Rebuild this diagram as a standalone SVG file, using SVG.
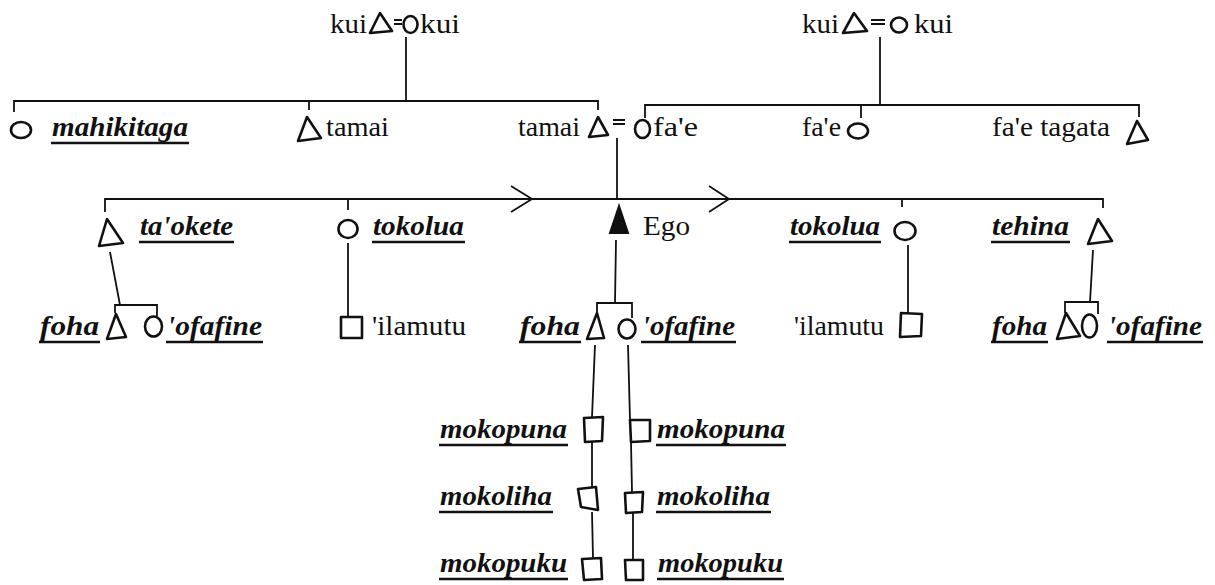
<svg xmlns="http://www.w3.org/2000/svg" width="1215" height="585" viewBox="0 0 1215 585">
<style>
.t{font-family:"Liberation Serif",serif;font-size:28px;fill:#111}
.bi{font-family:"Liberation Serif",serif;font-weight:bold;font-style:italic}
.s{fill:none;stroke:#111;stroke-width:2.6;stroke-linejoin:round}
.f{fill:#111;stroke:#111;stroke-width:2}
.c{fill:none;stroke:#111;stroke-width:1.8}
.u{stroke:#111;stroke-width:2.6}
</style>
<rect width="1215" height="585" fill="#fff"/>
<g id="connectors">
<path class="c" d="M406,37V101M14,112V101H598V110M309,101V110"/>
<path class="c" d="M880,37V105M645,118V105H1139V117M861,105V118"/>
<path class="c" d="M617,138V199"/>
<path class="c" d="M105,212V199H1103V208M348,199V210M902,199V207"/>
<polyline class="c" points="511,186 532,199 511,212"/>
<polyline class="c" points="709,186 729,199 709,212"/>
<path class="c" d="M110,252L120,305M115,313V305H157V316"/>
<path class="c" d="M348,243V316"/>
<path class="c" d="M616,240L615,303M597,312V303H632V318"/>
<path class="c" d="M908,245V314"/>
<path class="c" d="M1093,250L1090,302M1065,313V302H1098V314"/>
<path class="c" d="M595,345L592,417M592,442V487M592,512L593,558"/>
<path class="c" d="M628,345L630,420M631,442L632,492M633,513V560"/>
</g>
<g id="kui-couple-left">
<text class="t" x="330" y="33" textLength="37" lengthAdjust="spacingAndGlyphs">kui</text>
<polygon class="s" points="380,13 370,33 392,31"/>
<path class="c" d="M394,20H402M394,24H402"/>
<ellipse class="s" cx="410.5" cy="24.5" rx="7" ry="8.5"/>
<text class="t" x="420" y="33" textLength="40" lengthAdjust="spacingAndGlyphs">kui</text>
</g>
<g id="kui-couple-right">
<text class="t" x="802" y="33" textLength="37" lengthAdjust="spacingAndGlyphs">kui</text>
<polygon class="s" points="854,13 843,33 867,31"/>
<path class="c" d="M871,20H885M871,24H885"/>
<ellipse class="s" cx="899" cy="25" rx="8" ry="7.5"/>
<text class="t" x="914" y="33" textLength="39" lengthAdjust="spacingAndGlyphs">kui</text>
</g>
<g id="mahikitaga">
<ellipse class="s" cx="21" cy="130" rx="10" ry="8"/>
<text class="t bi" x="52" y="136" textLength="136" lengthAdjust="spacingAndGlyphs">mahikitaga</text>
<line class="u" x1="51" y1="143" x2="189" y2="143"/>
</g>
<g id="tamai-1">
<polygon class="s" points="307,117 298,141 321,138"/>
<text class="t" x="326" y="136" textLength="63" lengthAdjust="spacingAndGlyphs">tamai</text>
</g>
<g id="tamai-2">
<text class="t" x="518" y="136" textLength="62" lengthAdjust="spacingAndGlyphs">tamai</text>
<polygon class="s" points="598,117 589,137 608,135"/>
<path class="c" d="M613,120H625M613,124H625"/>
</g>
<g id="fae-1">
<ellipse class="s" cx="642.5" cy="129" rx="7.5" ry="9"/>
<text class="t" x="653" y="136" textLength="45" lengthAdjust="spacingAndGlyphs">fa'e</text>
</g>
<g id="fae-2">
<text class="t" x="802" y="136" textLength="39" lengthAdjust="spacingAndGlyphs">fa'e</text>
<ellipse class="s" cx="858" cy="131" rx="10" ry="7.5"/>
</g>
<g id="fae-tagata">
<text class="t" x="992" y="136" textLength="118" lengthAdjust="spacingAndGlyphs">fa'e tagata</text>
<polygon class="s" points="1137,121 1127,144 1148,140"/>
</g>
<g id="taokete">
<polygon class="s" points="107,219 99,246 123,243"/>
<text class="t bi" x="140" y="235" textLength="93" lengthAdjust="spacingAndGlyphs">ta'okete</text>
<line class="u" x1="139" y1="242" x2="234" y2="242"/>
</g>
<g id="tokolua-1">
<ellipse class="s" cx="348" cy="229" rx="9.5" ry="9"/>
<text class="t bi" x="373" y="235" textLength="91" lengthAdjust="spacingAndGlyphs">tokolua</text>
<line class="u" x1="372" y1="242" x2="465" y2="242"/>
</g>
<g id="ego">
<polygon class="f" points="619,206 610,233 628,233"/>
<text class="t" x="643" y="235" textLength="47" lengthAdjust="spacingAndGlyphs">Ego</text>
</g>
<g id="tokolua-2">
<text class="t bi" x="790" y="235" textLength="90" lengthAdjust="spacingAndGlyphs">tokolua</text>
<line class="u" x1="789" y1="242" x2="881" y2="242"/>
<ellipse class="s" cx="905" cy="231" rx="10.5" ry="9"/>
</g>
<g id="tehina">
<text class="t bi" x="992" y="235" textLength="77" lengthAdjust="spacingAndGlyphs">tehina</text>
<line class="u" x1="991" y1="242" x2="1070" y2="242"/>
<polygon class="s" points="1098,219 1088,244 1112,241"/>
</g>
<g id="foha-ofafine-1">
<text class="t bi" x="40" y="335" textLength="59" lengthAdjust="spacingAndGlyphs">foha</text>
<line class="u" x1="39" y1="342" x2="100" y2="342"/>
<polygon class="s" points="116,314 107,339 126,337"/>
<ellipse class="s" cx="153.5" cy="326.5" rx="8.5" ry="10"/>
<text class="t bi" x="167" y="335" textLength="95" lengthAdjust="spacingAndGlyphs">'ofafine</text>
<line class="u" x1="166" y1="342" x2="263" y2="342"/>
</g>
<g id="ilamutu-1">
<rect class="s" x="341" y="317" width="21" height="21"/>
<text class="t" x="372" y="335" textLength="94" lengthAdjust="spacingAndGlyphs">'ilamutu</text>
</g>
<g id="foha-ofafine-2">
<text class="t bi" x="520" y="335" textLength="60" lengthAdjust="spacingAndGlyphs">foha</text>
<line class="u" x1="519" y1="342" x2="581" y2="342"/>
<polygon class="s" points="597,313 587,339 604,338"/>
<ellipse class="s" cx="627" cy="329" rx="8.5" ry="9.5"/>
<text class="t bi" x="642" y="335" textLength="93" lengthAdjust="spacingAndGlyphs">'ofafine</text>
<line class="u" x1="641" y1="342" x2="736" y2="342"/>
</g>
<g id="ilamutu-2">
<text class="t" x="794" y="335" textLength="90" lengthAdjust="spacingAndGlyphs">'ilamutu</text>
<polygon class="s" points="901,313 922,314 921,336 900,337"/>
</g>
<g id="foha-ofafine-3">
<text class="t bi" x="992" y="335" textLength="55" lengthAdjust="spacingAndGlyphs">foha</text>
<line class="u" x1="991" y1="342" x2="1048" y2="342"/>
<polygon class="s" points="1066,313 1057,339 1080,336"/>
<ellipse class="s" cx="1089.5" cy="326" rx="7.5" ry="11.5"/>
<text class="t bi" x="1108" y="335" textLength="94" lengthAdjust="spacingAndGlyphs">'ofafine</text>
<line class="u" x1="1107" y1="342" x2="1203" y2="342"/>
</g>
<g id="mokopuna-1">
<text class="t bi" x="440" y="438" textLength="127" lengthAdjust="spacingAndGlyphs">mokopuna</text>
<line class="u" x1="439" y1="445" x2="568" y2="445"/>
<polygon class="s" points="584,418 603,417 602,441 585,442"/>
</g>
<g id="mokopuna-2">
<polygon class="s" points="630,420 650,420 650,441 631,442"/>
<text class="t bi" x="657" y="438" textLength="128" lengthAdjust="spacingAndGlyphs">mokopuna</text>
<line class="u" x1="656" y1="445" x2="786" y2="445"/>
</g>
<g id="mokoliha-1">
<text class="t bi" x="440" y="505" textLength="112" lengthAdjust="spacingAndGlyphs">mokoliha</text>
<line class="u" x1="439" y1="512" x2="553" y2="512"/>
<polygon class="s" points="578,489 596,487 598,510 581,507"/>
</g>
<g id="mokoliha-2">
<polygon class="s" points="625,493 643,492 642,512 626,513"/>
<text class="t bi" x="657" y="505" textLength="113" lengthAdjust="spacingAndGlyphs">mokoliha</text>
<line class="u" x1="656" y1="512" x2="771" y2="512"/>
</g>
<g id="mokopuku-1">
<text class="t bi" x="440" y="572" textLength="127" lengthAdjust="spacingAndGlyphs">mokopuku</text>
<line class="u" x1="439" y1="579" x2="568" y2="579"/>
<polygon class="s" points="582,559 601,558 602,579 584,580"/>
</g>
<g id="mokopuku-2">
<polygon class="s" points="625,560 643,560 643,580 626,580"/>
<text class="t bi" x="658" y="572" textLength="125" lengthAdjust="spacingAndGlyphs">mokopuku</text>
<line class="u" x1="657" y1="579" x2="784" y2="579"/>
</g>
</svg>
